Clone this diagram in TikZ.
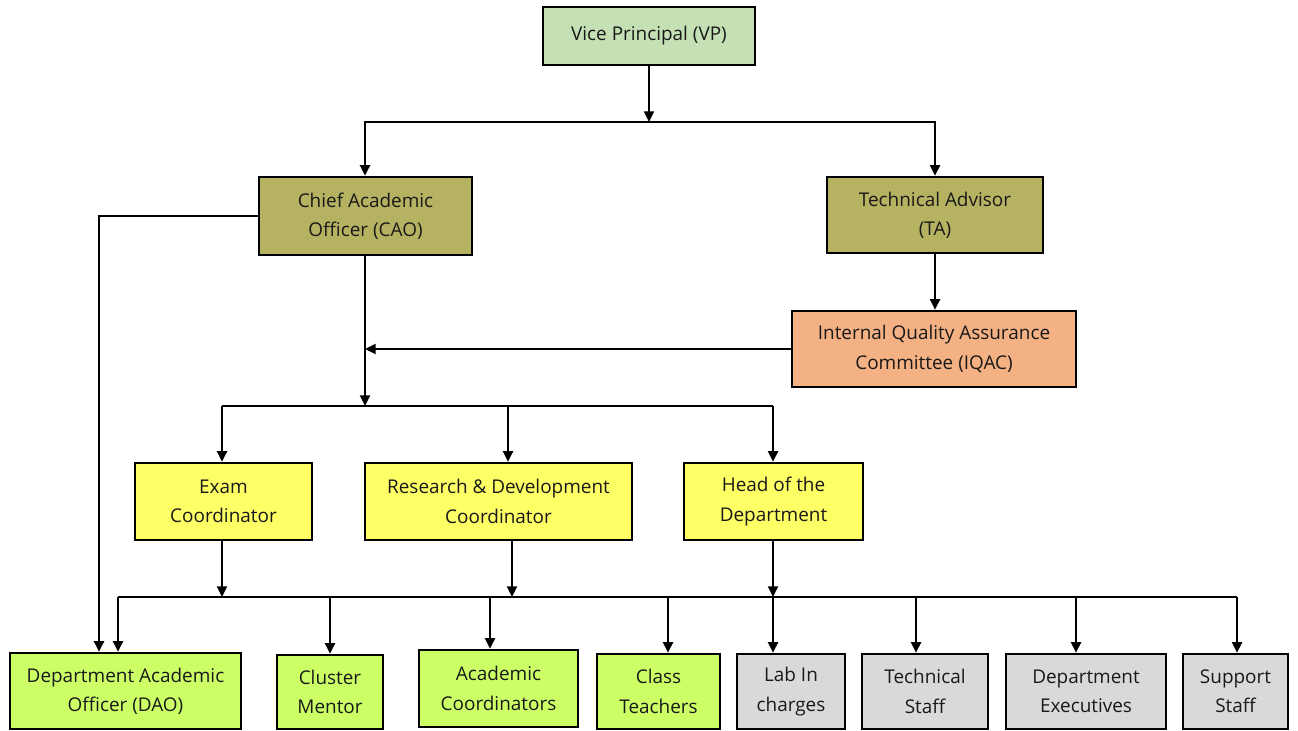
\documentclass[tikz,border=0pt]{standalone}
\usepackage{fontspec}
\setmainfont{Open Sans}
\usetikzlibrary{arrows.meta}
\newdimen\px \px=0.75pt
\definecolor{vpgreen}{RGB}{197,224,180}
\definecolor{olive}{RGB}{181,178,98}
\definecolor{salmon}{RGB}{244,177,131}
\definecolor{yel}{RGB}{255,255,102}
\definecolor{lime}{RGB}{204,255,102}
\definecolor{gry}{RGB}{217,217,217}
\tikzset{
  box/.style={draw=black, line width=1.8pt, align=center, inner sep=0pt,
    font=\fontsize{14.2}{22}\selectfont, text=black!90},
  arr/.style={draw=black, line width=1.6pt, -{Triangle[length=8pt,width=7.5pt]}},
  ln/.style={draw=black, line width=1.6pt},
}
\begin{document}
\begin{tikzpicture}[x=0.75pt,y=-0.75pt]
\fill[white] (0,0) rectangle (1298,731);
\useasboundingbox (0,0) rectangle (1298,731);
% boxes
\node[box, fill=vpgreen, minimum width=212\px, minimum height=58\px] (vp) at (649,36) {Vice Principal (VP)};
\node[box, fill=olive, minimum width=213\px, minimum height=78\px] (cao) at (365.5,216) {Chief Academic\\Officer (CAO)};
\node[box, fill=olive, minimum width=216\px, minimum height=76\px] (ta) at (935,215) {Technical Advisor\\(TA)};
\node[box, fill=salmon, minimum width=284\px, minimum height=76\px] (iqac) at (934,349) {Internal Quality Assurance\\Committee (IQAC)};
\node[box, fill=yel, minimum width=177\px, minimum height=77\px] (exam) at (223.5,501.5) {Exam\\Coordinator};
\node[box, fill=yel, minimum width=267\px, minimum height=77\px] (rd) at (498.5,501.5) {Research \& Development\\Coordinator};
\node[box, fill=yel, minimum width=179\px, minimum height=77\px] (hod) at (773.5,501.5) {Head of the\\Department};
\node[box, fill=lime, minimum width=231\px, minimum height=76\px] (dao) at (125.5,691) {Department Academic\\Officer (DAO)};
\node[box, fill=lime, minimum width=106\px, minimum height=74\px] (cm) at (330,692) {Cluster\\Mentor};
\node[box, fill=lime, minimum width=159\px, minimum height=77\px] (ac) at (498.5,688.5) {Academic\\Coordinators};
\node[box, fill=lime, minimum width=123\px, minimum height=75\px] (ct) at (658.5,691.5) {Class\\Teachers};
\node[box, fill=gry, minimum width=108\px, minimum height=75\px] (lab) at (791,691.5) {Lab In\\charges};
\node[box, fill=gry, minimum width=126\px, minimum height=75\px] (ts) at (925,691.5) {Technical\\Staff};
\node[box, fill=gry, minimum width=160\px, minimum height=75\px] (de) at (1086,691.5) {Department\\Executives};
\node[box, fill=gry, minimum width=105\px, minimum height=75\px] (ss) at (1235.5,691.5) {Support\\Staff};
% junctions
\coordinate (j1) at (649,122);
\coordinate (j2) at (365,349);
\coordinate (j3) at (365,406);
\coordinate (j4a) at (222,597);
\coordinate (j4b) at (512,597);
\coordinate (j4c) at (773,597);
% VP level
\draw[arr] (vp.south |- vp.south) -- (j1);
\draw[ln] (365,122) -- (935,122);
\draw[arr] (j1) -| (j2 |- cao.north);
\draw[arr] (j1) -| (ta.north);
% CAO to DAO
\draw[arr] (cao.west) -| (99,0 |- dao.north);
% CAO down
\draw[arr] (j3 |- cao.south) -- (j3);
\draw[arr] (ta.south) -- (ta.south |- iqac.north);
\draw[arr] (iqac.west) -- (j2);
% second level
\draw[ln] (222,406) -- (773,406);
\draw[arr] (j4a |- j3) -- (j4a |- exam.north);
\draw[arr] (508,406) -- (508,0 |- rd.north);
\draw[arr] (j4c |- j3) -- (j4c |- hod.north);
% third level
\draw[arr] (j4a |- exam.south) -- (j4a);
\draw[arr] (j4b |- rd.south) -- (j4b);
\draw[arr] (j4c |- hod.south) -- (j4c);
\draw[ln] (118,597) -- (1237,597);
\draw[arr] (118,597) -- (118,0 |- dao.north);
\draw[arr] (cm.north |- j4a) -- (cm.north);
\draw[arr] (490,597) -- (490,0 |- ac.north);
\draw[arr] (668,597) -- (668,0 |- ct.north);
\draw[arr] (j4c) -- (j4c |- lab.north);
\draw[arr] (916,597) -- (916,0 |- ts.north);
\draw[arr] (1076,597) -- (1076,0 |- de.north);
\draw[arr] (1237,597) -- (1237,0 |- ss.north);
\end{tikzpicture}
\end{document}
